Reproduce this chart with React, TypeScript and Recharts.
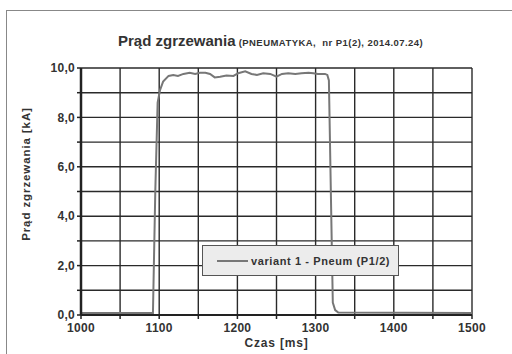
import React from "react";
import { LineChart, Line, XAxis, YAxis, CartesianGrid } from "recharts";

const timeMs = [1000, 1092, 1095, 1098, 1101, 1105, 1112, 1118, 1124, 1131, 1139, 1146, 1152, 1159, 1165, 1171, 1178, 1186, 1195, 1201, 1210, 1218, 1225, 1233, 1242, 1250, 1257, 1265, 1274, 1282, 1291, 1297, 1303, 1312, 1315, 1317, 1322, 1325, 1329, 1500];
const currentKA = [0.08, 0.08, 5.0, 8.6, 9.1, 9.45, 9.68, 9.72, 9.68, 9.76, 9.81, 9.76, 9.81, 9.81, 9.76, 9.62, 9.65, 9.7, 9.68, 9.79, 9.87, 9.76, 9.72, 9.79, 9.76, 9.65, 9.76, 9.79, 9.76, 9.79, 9.81, 9.79, 9.76, 9.76, 9.72, 9.5, 0.5, 0.2, 0.1, 0.08];
const xTicks = [1000, 1050, 1100, 1150, 1200, 1250, 1300, 1350, 1400, 1450, 1500];
const yTicks = [0, 1, 2, 3, 4, 5, 6, 7, 8, 9, 10];
const seriesName = "variant 1 - Pneum (P1/2)";

const data = timeMs.map((t, i) => ({ t, v: currentKA[i] }));

const FONT = "'Liberation Sans', Arial, sans-serif";
const tickStyle = { fontFamily: FONT, fontWeight: "bold", fontSize: 12, fill: "#333", letterSpacing: 0.3 };

const LegendBox = () => (
  <div
    style={{
      position: "absolute",
      left: 202,
      top: 245,
      width: 197,
      height: 31,
      background: "#ececec",
      border: "1.5px solid #555",
      display: "flex",
      alignItems: "center",
      boxSizing: "border-box",
      fontFamily: FONT,
      fontWeight: "bold",
      fontSize: 11,
      letterSpacing: 0.6,
      color: "#333",
      whiteSpace: "pre",
    }}
  >
    <div style={{ width: 31, height: 2, background: "#777", marginLeft: 14, marginRight: 3 }} />
    <span>{seriesName}</span>
  </div>
);

export default function App() {
  return (
    <div style={{ position: "absolute", left: 0, top: 0, width: 512, height: 354, background: "#fff", overflow: "hidden" }}>
      <div
        style={{
          position: "absolute",
          left: 6,
          top: 10,
          width: 520,
          height: 360,
          borderTop: "1.5px solid #888",
          borderLeft: "1.5px solid #888",
        }}
      />
      <div
        style={{
          position: "absolute",
          left: 118,
          top: 32,
          fontFamily: FONT,
          fontWeight: "bold",
          color: "#333",
          whiteSpace: "pre",
        }}
      >
        <span style={{ fontSize: 15 }}>Prąd zgrzewania</span>
        <span style={{ fontSize: 9.5, letterSpacing: 0.45 }}> (PNEUMATYKA,  nr P1(2), 2014.07.24)</span>
      </div>
      <div
        style={{
          position: "absolute",
          left: 26,
          top: 174,
          transform: "translate(-50%, -50%) rotate(-90deg)",
          fontFamily: FONT,
          fontWeight: "bold",
          fontSize: 11.5,
          letterSpacing: 0.9,
          color: "#333",
          whiteSpace: "pre",
        }}
      >
        Prąd zgrzewania [kA]
      </div>
      <LineChart
        width={512}
        height={354}
        data={data}
        margin={{ top: 68, right: 40, left: 21, bottom: 9 }}
        style={{ position: "absolute", left: 0, top: 0 }}
      >
        <CartesianGrid stroke="#2a2a2a" strokeWidth={1.4} />
        <XAxis
          dataKey="t"
          type="number"
          domain={[1000, 1500]}
          ticks={xTicks}
          interval={0}
          height={30}
          axisLine={{ stroke: "#222", strokeWidth: 2 }}
          tickLine={{ stroke: "#222", strokeWidth: 1.5 }}
          tickSize={4}
          tickMargin={4}
          tick={tickStyle}
          tickFormatter={(v: number) => (v % 100 === 0 ? String(v) : "")}
          label={{ value: "Czas [ms]", position: "insideBottom", offset: -2, style: { fontFamily: FONT, fontWeight: "bold", fontSize: 12, letterSpacing: 0.8, fill: "#333" } }}
        />
        <YAxis
          type="number"
          domain={[0, 10]}
          ticks={yTicks}
          interval={0}
          width={60}
          axisLine={{ stroke: "#222", strokeWidth: 2.5 }}
          tickLine={{ stroke: "#222", strokeWidth: 1.5 }}
          tickSize={4}
          tick={tickStyle}
          tickFormatter={(v: number) => (v % 2 === 0 ? v.toFixed(1).replace(".", ",") : "")}
        />
        <Line
          dataKey="v"
          type="linear"
          stroke="#777"
          strokeWidth={2}
          dot={false}
          isAnimationActive={false}
        />
      </LineChart>
      <LegendBox />
    </div>
  );
}
